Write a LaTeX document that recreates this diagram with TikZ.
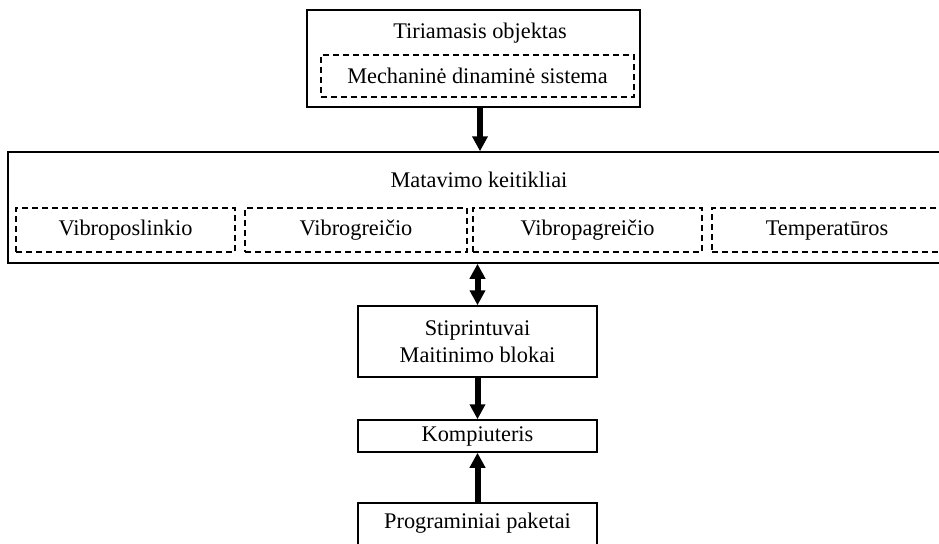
\documentclass[tikz,border=0pt]{standalone}
\usepackage{fontspec}
\setmainfont{Liberation Serif}
\usetikzlibrary{arrows.meta}

\begin{document}
\begin{tikzpicture}[x=0.6pt, y=-0.6pt,
	>={Triangle[width=9pt, length=9pt]},
	box/.style={draw, line width=0.9pt, rectangle, inner sep=0pt},
	dbox/.style={draw, line width=0.9pt, dash pattern=on 3.6pt off 2.4pt, rectangle, inner sep=0pt},
	sensor/.style={dbox, minimum height=26.4pt, text height=9.4pt, text depth=3pt},
	flow/.style={line width=3.6pt, ->},
	both/.style={line width=3.6pt, <->},
	every node/.style={font=\fontsize{13.4}{16}\selectfont}]
	\clip (0,0) rectangle (939,543); 

	\node[box, minimum width=199.8pt, minimum height=58.2pt] (objektas) at (473.5,58.5) {};
	\node (objektasT) at (480,33) {Tiriamasis objektas};
	\node[dbox, minimum width=187.8pt, minimum height=25.2pt] (sistema) at (477.5,76) {Mechaninė dinaminė sistema};

	\node[box, minimum width=568.2pt, minimum height=66.6pt] (keitikliai) at (481.5,207.5) {};
	\node (keitikliaiT) at (479,180) {Matavimo keitikliai};
	\node[sensor, minimum width=131.4pt] (poslinkis) at (125.5,230) {Vibroposlinkio};
	\node[sensor, minimum width=133.2pt] (greitis) at (356,230) {Vibrogreičio};
	\node[sensor, minimum width=137.4pt] (pagreitis) at (587.5,230) {Vibropagreičio};
	\node[sensor, minimum width=138pt] (temperatura) at (827,230) {Temperatūros};

	\node[box, minimum width=143.4pt, minimum height=42.6pt, align=center] (stiprintuvai) at (477.5,341.5) {Stiprintuvai\\Maitinimo blokai};
	\node[box, minimum width=143.4pt, minimum height=19.2pt] (kompiuteris) at (477.5,436) {Kompiuteris};
	\node[box, anchor=north, minimum width=143.4pt, text height=15.6pt, text depth=40pt] (paketai) at (477.5,502) {Programiniai paketai};

	\draw[flow] ([xshift=3.9pt]objektas.south) -- ([xshift=3.9pt]objektas.south |- keitikliai.north);
	\draw[both] (keitikliai.south -| stiprintuvai.north) -- (stiprintuvai.north);
	\draw[flow] (stiprintuvai.south) -- (kompiuteris.north);
	\draw[flow] (paketai.north) -- (kompiuteris.south);

\end{tikzpicture}
\end{document}
